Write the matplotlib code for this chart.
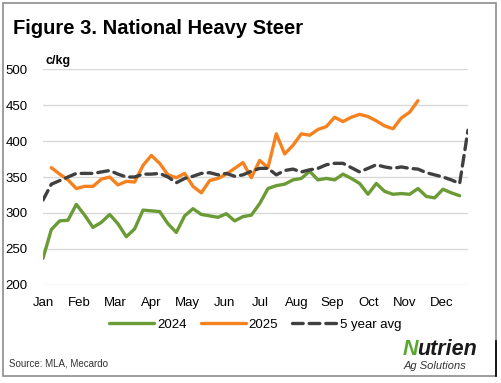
import matplotlib
matplotlib.use("Agg")
import matplotlib.pyplot as plt
from matplotlib.patches import Rectangle
from matplotlib.lines import Line2D

plt.rcParams['font.family'] = ['Liberation Sans', 'DejaVu Sans']

months = ["Jan", "Feb", "Mar", "Apr", "May", "Jun",
          "Jul", "Aug", "Sep", "Oct", "Nov", "Dec"]

# weekly prices, c/kg (week 1 = first week of January)
y2024 = [237, 277, 289, 290, 312, 297, 280, 287, 298, 285, 267, 278, 304,
         303, 302, 285, 273, 296, 306, 298, 296, 294, 299, 289, 295, 297,
         313, 334, 338, 340, 346, 348, 358, 346, 348, 346, 354, 348, 341,
         326, 341, 330, 326, 327, 326, 334, 323, 321, 333, 328, 324]
# 2025 starts in week 2
y2025 = [363, 354, 346, 334, 337, 337, 347, 350, 339, 344, 343, 366,
         380, 369, 353, 349, 355, 337, 328, 345, 348, 354, 362, 370, 349,
         373, 363, 410, 382, 394, 410, 408, 416, 420, 433, 427, 433, 437,
         434, 428, 421, 417, 432, 440, 456]
avg5 = [318, 340, 345, 350, 355, 355, 355, 357, 359, 354, 350, 350, 354,
        354, 355, 350, 342, 348, 351, 355, 356, 353, 355, 351, 353, 358,
        362, 362, 353, 359, 361, 357, 360, 362, 367, 369, 369, 363, 357,
        362, 367, 364, 362, 364, 362, 361, 356, 353, 350, 346, 341, 415]

weeks2024 = list(range(1, len(y2024) + 1))
weeks2025 = list(range(2, len(y2025) + 2))
weeks_avg = list(range(1, len(avg5) + 1))

fig = plt.figure(figsize=(5.01, 3.83), dpi=100)
fig.patches.append(Rectangle((0.005, 0.018), 0.985, 0.975, transform=fig.transFigure,
                             fill=False, edgecolor="#8c8c8c", linewidth=1.2))
fig.lines.append(Line2D([0.99, 0.99], [0.018, 0.11], transform=fig.transFigure,
                        color="black", linewidth=1.2))

ax = fig.add_axes([0.0858, 0.2559, 0.8483, 0.5639])

green = "#6a9b35"
orange = "#f5821f"
dark = "#404040"

ax.plot(weeks2024, y2024, color=green, lw=2.4, solid_capstyle="round",
        solid_joinstyle="round", label="2024")
ax.plot(weeks2025, y2025, color=orange, lw=2.4, solid_capstyle="round",
        solid_joinstyle="round", label="2025")
ax.plot(weeks_avg, avg5, color=dark, lw=2.4, dashes=(3.2, 1.8),
        dash_capstyle="round", label="5 year avg")

ax.set_xlim(1, 52)
ax.set_ylim(200, 500)
ax.set_yticks(range(200, 501, 50))
ax.set_xticks([1 + i * 52.14 / 12 for i in range(12)])
ax.set_xticklabels(months)
ax.tick_params(axis="both", length=0, labelsize=9.5, colors="black")
ax.tick_params(axis="y", pad=11)
ax.tick_params(axis="x", pad=9)
ax.grid(axis="y", color="#d9d9d9", lw=1)
ax.set_axisbelow(True)
for s in ax.spines.values():
    s.set_visible(False)

ax.legend(loc="center", bbox_to_anchor=(0.5, -0.185), ncol=3, frameon=False,
          fontsize=9.5, handlelength=3.4, handletextpad=0.2, columnspacing=1.1)

fig.text(0.026, 0.91, "Figure 3. National Heavy Steer", fontsize=14.5,
         fontweight="bold", va="baseline")
fig.text(0.09, 0.832, "c/kg", fontsize=9, fontweight="bold", va="baseline")
fig.text(0.018, 0.043, "Source: MLA, Mecardo", fontsize=7, color="#333333",
         va="baseline")

# logo text
fig.text(0.804, 0.072, "N", fontsize=15.5, fontweight="bold", style="italic",
         color="#5aa832", va="baseline")
fig.text(0.833, 0.072, "utrien", fontsize=15.5, fontweight="bold", style="italic",
         color="#1a1a1a", va="baseline")
fig.text(0.805, 0.036, "Ag Solutions", fontsize=8, style="italic",
         color="#333333", va="baseline")

fig.savefig("out.png", dpi=100)
